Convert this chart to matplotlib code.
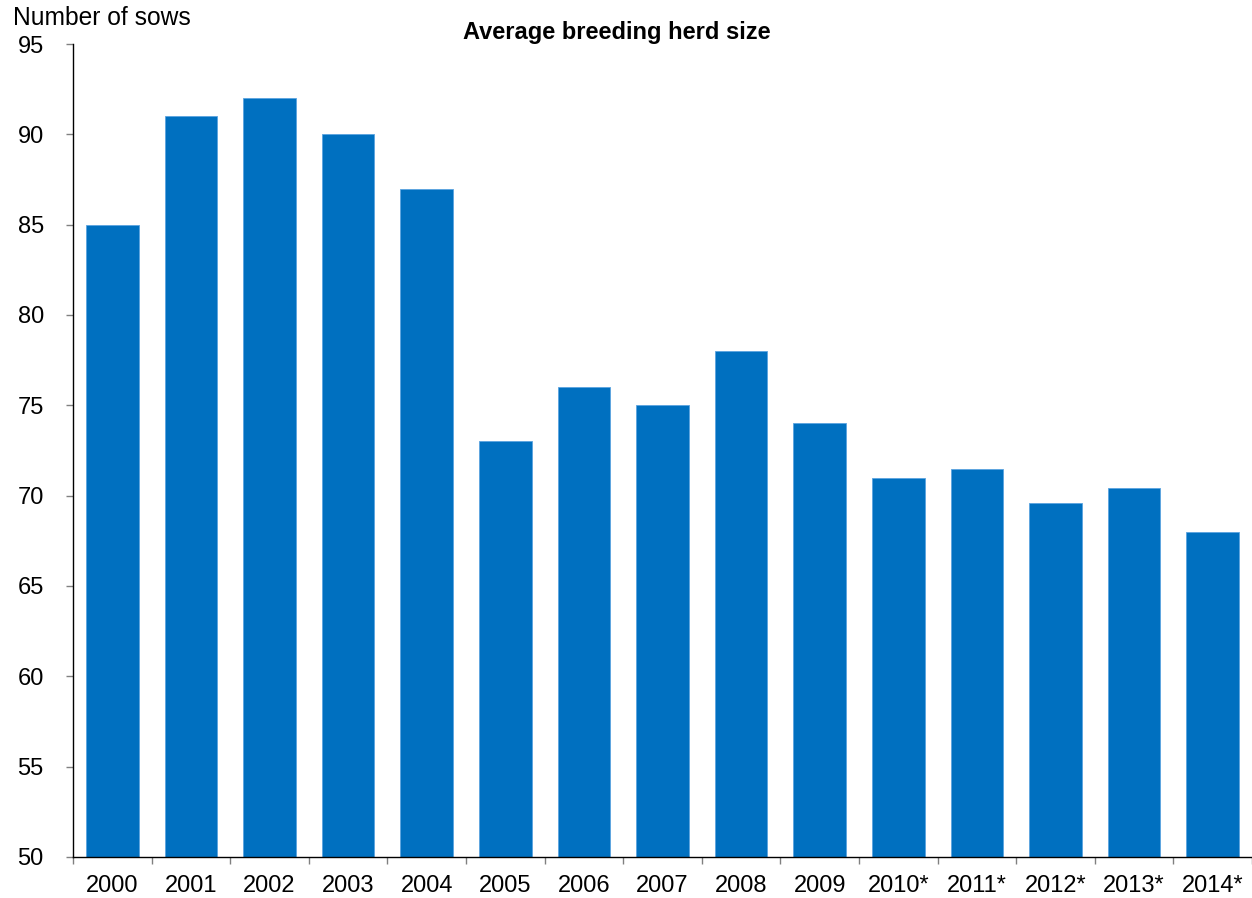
import numpy as np
import matplotlib.pyplot as plt

plt.rcParams['font.family'] = ['Liberation Sans', 'DejaVu Sans']

# ─── Data ─────────────────────────────────────────────────────────────────────

years = ['2000', '2001', '2002', '2003', '2004', '2005', '2006', '2007',
         '2008', '2009', '2010*', '2011*', '2012*', '2013*', '2014*']
herd_size = [85, 91, 92, 90, 87, 73, 76, 75, 78, 74, 71, 71.5, 69.6, 70.4, 68]

bar_color = '#0070C0'

# ─── Figure ───────────────────────────────────────────────────────────────────

fig = plt.figure(figsize=(12.52, 8.98), dpi=100)
ax = fig.add_axes([0.0583, 0.0457, 0.9417, 0.9053])

x = np.arange(len(years))
ax.bar(x, herd_size, width=0.67, color=bar_color, edgecolor='#5BA3E0',
       linewidth=0.6, zorder=2)

ax.set_xlim(-0.5, len(years) - 0.5)
ax.set_ylim(50, 95)
ax.set_yticks(np.arange(50, 96, 5))

# category labels at centres, tick marks at boundaries
ax.set_xticks(x)
ax.set_xticklabels(years)
ax.set_xticks(np.arange(-0.5, len(years), 1), minor=True)
ax.tick_params(axis='x', which='major', length=0, pad=13, labelsize=17)
ax.tick_params(axis='x', which='minor', length=5, color='#808080', width=1)
ax.tick_params(axis='y', length=5, color='#808080', width=1, pad=16,
               labelsize=17)

for side in ['top', 'right']:
    ax.spines[side].set_visible(False)
ax.spines['left'].set_linewidth(1)
ax.spines['bottom'].set_linewidth(1)

# ─── Text ─────────────────────────────────────────────────────────────────────

fig.text(0.493, 0.964, 'Average breeding herd size', ha='center', va='center',
         fontsize=17, fontweight='bold')
fig.text(0.010, 0.980, 'Number of sows', ha='left', va='center', fontsize=17.7)

plt.savefig('out.png', dpi=100)
